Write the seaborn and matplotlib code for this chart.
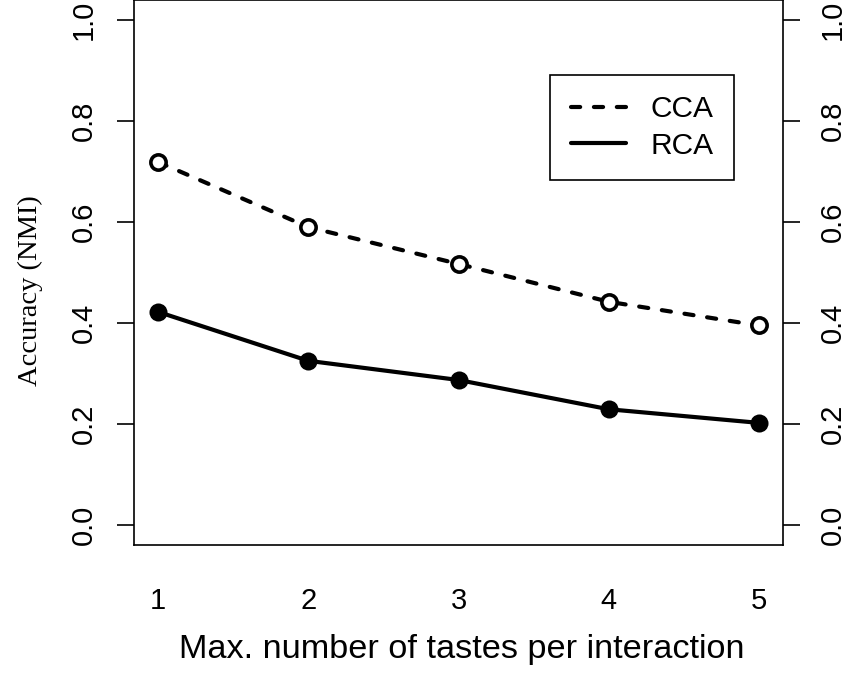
import numpy as np
import pandas as pd
import matplotlib
matplotlib.use("Agg")
import matplotlib.pyplot as plt
from matplotlib.lines import Line2D
import seaborn as sns

# Accuracy (NMI) against the maximum number of tastes per interaction
tastes = [1, 2, 3, 4, 5]
cca_nmi = [0.719, 0.590, 0.517, 0.442, 0.395]
rca_nmi = [0.422, 0.325, 0.287, 0.229, 0.202]
series_names = ["CCA", "RCA"]
y_ticks = [0.0, 0.2, 0.4, 0.6, 0.8, 1.0]

df = pd.DataFrame({
    "tastes": tastes * 2,
    "nmi": cca_nmi + rca_nmi,
    "method": [series_names[0]] * len(tastes) + [series_names[1]] * len(tastes),
})

sns.set_theme(style="white")
plt.rcParams["font.family"] = ["Liberation Sans", "DejaVu Sans"]
plt.rcParams["text.color"] = "black"
plt.rcParams["axes.labelcolor"] = "black"
plt.rcParams["xtick.color"] = "black"
plt.rcParams["ytick.color"] = "black"

fig = plt.figure(figsize=(8.5, 6.74), dpi=100)
ax = fig.add_axes([134 / 850, 1 - 545 / 674, (783 - 134) / 850, 545 / 674])

lw = 3.0
dash = (0, (2.2, 3.3))
cca = df[df.method == "CCA"]
rca = df[df.method == "RCA"]
sns.lineplot(data=cca, x="tastes", y="nmi", ax=ax, color="black", lw=lw,
             marker="o", markersize=11, markerfacecolor="white",
             markeredgecolor="black", markeredgewidth=2.6,
             label="CCA")
ax.lines[-1].set_linestyle(dash)
ax.lines[-1].set_dash_capstyle("round")
sns.lineplot(data=rca, x="tastes", y="nmi", ax=ax, color="black", lw=lw,
             marker="o", markersize=13, markerfacecolor="black",
             markeredgecolor="black", markeredgewidth=0, label="RCA")

ax.set_xlim(0.84, 5.16)
ax.set_ylim(-0.04, 1.04)
ax.set_xticks(tastes)
ax.set_xticklabels([str(t) for t in tastes])
ax.set_yticks(y_ticks)
ax.set_yticklabels([f"{v:.1f}" for v in y_ticks])

for side in ["left", "right", "top", "bottom"]:
    ax.spines[side].set_visible(True)
    ax.spines[side].set_color("black")
    ax.spines[side].set_linewidth(1.2)

ax.tick_params(axis="both", direction="out", length=12, width=1.2,
               colors="black", labelcolor="black", labelsize=21)
ax.tick_params(axis="x", pad=18)
ax.tick_params(axis="y", pad=14, left=True, right=True,
               labelleft=True, labelright=True)
for tick in ax.yaxis.get_major_ticks():
    tick.label1.set_rotation(90)
    tick.label1.set_va("center")
    tick.label2.set_rotation(90)
    tick.label2.set_va("center")

ax.set_xlabel("Max. number of tastes per interaction", fontsize=24.7,
              color="black")
ax.xaxis.set_label_coords(0.505, -0.163)
ax.xaxis.label.set_va("top")
ax.set_ylabel("Accuracy (NMI)", fontsize=20.5, family=["Liberation Serif"],
              color="black")
ax.yaxis.set_label_coords((43 - 134) / 649, (545 - 291) / 545)

# legend: line samples only
h_cca = Line2D([], [], color="black", lw=lw, linestyle=dash,
               dash_capstyle="round")
h_rca = Line2D([], [], color="black", lw=lw)
leg = ax.legend([h_cca, h_rca], series_names, loc="upper right",
                bbox_to_anchor=((734 - 134) / 649, (545 - 75) / 545),
                borderaxespad=0, fontsize=21.5, frameon=True, fancybox=False,
                handlelength=1.84, handletextpad=0.84, labelspacing=0.28,
                borderpad=0.68)
leg.get_frame().set_edgecolor("black")
leg.get_frame().set_linewidth(1.2)
leg.get_frame().set_facecolor("white")
leg.get_frame().set_alpha(1)
for t in leg.get_texts():
    t.set_color("black")

fig.savefig("out.png", dpi=100, facecolor="white")
